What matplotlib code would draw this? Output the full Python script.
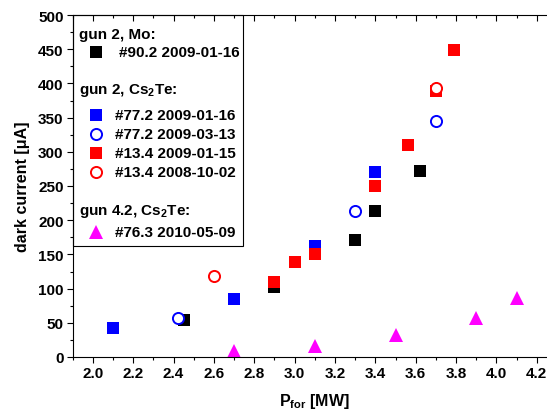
import matplotlib
matplotlib.use('Agg')
import matplotlib.pyplot as plt
from matplotlib.patches import Rectangle
from matplotlib.ticker import MultipleLocator

plt.rcParams['font.family'] = ['Liberation Sans', 'DejaVu Sans']
plt.rcParams['font.weight'] = 'bold'
plt.rcParams['mathtext.fontset'] = 'custom'
plt.rcParams['mathtext.rm'] = 'Liberation Sans:bold'
plt.rcParams['mathtext.bf'] = 'Liberation Sans:bold'

# gun 2, Mo: #90.2 2009-01-16
mo_x = [2.45, 2.9, 3.3, 3.4, 3.62]
mo_y = [54, 102, 171, 213, 272]
# gun 2, Cs2Te: #77.2 2009-01-16
c77a_x = [2.1, 2.7, 3.1, 3.4]
c77a_y = [42, 85, 162, 270]
# #77.2 2009-03-13
c77b_x = [2.42, 3.3, 3.7]
c77b_y = [57, 213, 345]
# #13.4 2009-01-15
c13a_x = [2.9, 3.0, 3.1, 3.4, 3.56, 3.7, 3.79]
c13a_y = [109, 139, 150, 250, 310, 389, 449]
# #13.4 2008-10-02
c13b_x = [2.6, 3.7]
c13b_y = [118, 394]
# gun 4.2, Cs2Te: #76.3 2010-05-09
g42_x = [2.7, 3.1, 3.5, 3.9, 4.1]
g42_y = [9, 16, 32, 57, 86]

W, H = 547, 414
fig = plt.figure(figsize=(W / 100, H / 100), dpi=100)
ax = fig.add_axes([72.7 / W, 56 / H, 484.3 / W, 342 / H])

sq = dict(marker='s', ms=8, ls='none', mew=0)
ax.plot(mo_x, mo_y, color='black', **sq)
ax.plot(c77a_x, c77a_y, color='blue', **sq)
ax.plot(c13a_x, c13a_y, color='red', **sq)
circ = dict(marker='o', ms=8, ls='none', mew=1.4, mfc='white')
ax.plot(c77b_x, c77b_y, color='blue', **circ)
ax.plot(c13b_x, c13b_y, color='red', **circ)
ax.plot(g42_x, g42_y, color='magenta', marker='^', ms=10, ls='none', mew=0)

ax.set_xlim(1.9, 4.3)
ax.set_ylim(0, 500)
ax.xaxis.set_major_locator(MultipleLocator(0.2))
ax.xaxis.set_minor_locator(MultipleLocator(0.1))
ax.yaxis.set_major_locator(MultipleLocator(50))
ax.yaxis.set_minor_locator(MultipleLocator(25))
ax.set_xticklabels([])
ax.xaxis.set_major_formatter(plt.FuncFormatter(lambda v, p: f'{v:.1f}'))
ax.yaxis.set_major_formatter(plt.FuncFormatter(lambda v, p: f'{v:.0f}'))
ax.tick_params(axis='both', which='both', labelsize=11, width=0.8, direction='out')
ax.tick_params(axis='both', which='major', length=4.5, pad=2)
ax.tick_params(axis='both', which='minor', length=2.5)
ax.tick_params(axis='x', which='both', top=True)
for t in ax.xaxis.get_major_ticks() + ax.xaxis.get_minor_ticks():
    t.tick2line.set_marker(3)
ax.spines['right'].set_visible(False)
for s in ax.spines.values():
    s.set_linewidth(0.8)

ax.set_xlabel(r'P$_{\rm for}$ [MW]', fontsize=11.5, fontweight='bold', labelpad=8)
ax.set_ylabel('dark current [μA]', fontsize=11.5, fontweight='bold', labelpad=6)


# hand-made legend box in figure pixels
def fp(px, py):
    return px / W, (H - py) / H


fig.patches.append(Rectangle(fp(72.7, 247), 170 / W, 231 / H, transform=fig.transFigure,
                             fill=False, edgecolor='black', lw=0.8, zorder=5))
headers = [('gun 2, Mo:', 35), (r'gun 2, Cs$_2$Te:', 90.7), (r'gun 4.2, Cs$_2$Te:', 211.7)]
for txt, py in headers:
    fig.text(*fp(79, py), txt, fontsize=11, fontweight='bold', va='center', ha='left')

entries = [
    ('#90.2 2009-01-16', 53, 'black', sq, 119),
    ('#77.2 2009-01-16', 115.7, 'blue', sq, 115),
    ('#77.2 2009-03-13', 135, 'blue', circ, 115),
    ('#13.4 2009-01-15', 154, 'red', sq, 115),
    ('#13.4 2008-10-02', 173.3, 'red', circ, 115),
    ('#76.3 2010-05-09', 233.3, 'magenta', dict(marker='^', ms=10, ls='none', mew=0), 115),
]
for txt, py, col, style, tx in entries:
    mx, my = fp(95.5, py)
    fig.lines.append(plt.Line2D([mx], [my], color=col, transform=fig.transFigure, **style))
    fig.text(*fp(tx, py), txt, fontsize=11, fontweight='bold', va='center', ha='left')

fig.savefig('out.png', dpi=100)
